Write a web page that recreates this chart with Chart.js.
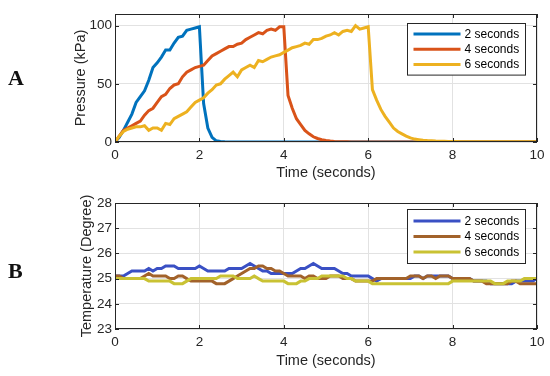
<!DOCTYPE html>
<html>
<head>
<meta charset="utf-8">
<script src="https://cdn.jsdelivr.net/npm/chart.js@4.4.0/dist/chart.umd.min.js"></script>
<style>
  body { margin: 0; background: #fff; }
  #wrap { position: relative; width: 550px; height: 376px; overflow: hidden; }
  canvas { position: absolute; left: 0; }
  #pressureChart { top: 0; }
  #tempChart { top: 182px; }
  .panel { position: absolute; left: 8px; font: bold 22px "Liberation Serif", serif; line-height: 1; color: #111; }
</style>
</head>
<body>
<div id="wrap">
  <canvas id="pressureChart" width="550" height="190"></canvas>
  <canvas id="tempChart" width="550" height="194"></canvas>
  <div class="panel" style="top:67px">A</div>
  <div class="panel" style="top:260px">B</div>
</div>
<script>
// time axis (seconds), 0.1 s step
var timeSec = [
  0, 0.1, 0.2, 0.3, 0.4, 0.5, 0.6, 0.7, 0.8, 0.9,
  1, 1.1, 1.2, 1.3, 1.4, 1.5, 1.6, 1.7, 1.8, 1.9,
  2, 2.1, 2.2, 2.3, 2.4, 2.5, 2.6, 2.7, 2.8, 2.9,
  3, 3.1, 3.2, 3.3, 3.4, 3.5, 3.6, 3.7, 3.8, 3.9,
  4, 4.1, 4.2, 4.3, 4.4, 4.5, 4.6, 4.7, 4.8, 4.9,
  5, 5.1, 5.2, 5.3, 5.4, 5.5, 5.6, 5.7, 5.8, 5.9,
  6, 6.1, 6.2, 6.3, 6.4, 6.5, 6.6, 6.7, 6.8, 6.9,
  7, 7.1, 7.2, 7.3, 7.4, 7.5, 7.6, 7.7, 7.8, 7.9,
  8, 8.1, 8.2, 8.3, 8.4, 8.5, 8.6, 8.7, 8.8, 8.9,
  9, 9.1, 9.2, 9.3, 9.4, 9.5, 9.6, 9.7, 9.8, 9.9,
  10
];
var seriesLabels = ["2 seconds", "4 seconds", "6 seconds"];
var timeTicks = [0, 2, 4, 6, 8, 10];
var pressureTicks = [0, 50, 100];
var tempTicks = [23, 24, 25, 26, 27, 28];

// Pressure (kPa)
var pressure2s = [
  0, 4, 10, 17, 24, 34, 39, 44, 53, 64,
  68, 73, 79, 79, 85, 90, 91, 96, 97, 98,
  99, 33, 12, 4, 1, 0.5, 0.2, 0, 0, 0,
  0, 0, 0, 0, 0, 0, 0, 0, 0, 0,
  0, 0, 0, 0, 0, 0, 0, 0, 0, 0,
  0, 0, 0, 0, 0, 0, 0, 0, 0, 0,
  0, 0, 0, 0, 0, 0, 0, 0, 0, 0,
  0, 0, 0, 0, 0, 0, 0, 0, 0, 0,
  0, 0, 0, 0, 0, 0, 0, 0, 0, 0,
  0, 0, 0, 0, 0, 0, 0, 0, 0, 0,
  0
];
var pressure4s = [
  0, 5, 10, 12, 14, 16, 18, 23, 27, 29,
  34, 39, 41, 46, 49, 50, 56, 60, 62, 64,
  65, 66, 70, 74, 76, 78, 80, 82, 82, 84,
  85, 88, 90, 92, 94, 93, 96, 97, 96, 99,
  99, 40, 29, 20, 15, 10, 7, 4.5, 3, 2,
  1.3, 0.8, 0.5, 0.3, 0.2, 0.2, 0.1, 0.1, 0, 0,
  0, 0, 0, 0, 0, 0, 0, 0, 0, 0,
  0, 0, 0, 0, 0, 0, 0, 0, 0, 0,
  0, 0, 0, 0, 0, 0, 0, 0, 0, 0,
  0, 0, 0, 0, 0, 0, 0, 0, 0, 0,
  0
];
var pressure6s = [
  0, 5, 9, 11, 12, 13, 13, 14, 10, 12,
  12, 10, 16, 15, 20, 22, 24, 26, 30, 34,
  36, 38, 42, 45, 49, 50, 54, 57, 60, 56,
  62, 64, 66, 64, 70, 69, 71, 73, 74, 75,
  77, 79, 81, 82, 83, 85, 84, 88, 88, 89,
  91, 92, 94, 92, 95, 96, 95, 100, 97, 98,
  99, 45, 36, 28, 22, 17, 12, 9, 7, 5,
  3.5, 2.5, 2, 1.5, 1.2, 1, 0.8, 0.7, 0.6, 0.5,
  0.4, 0.4, 0.3, 0.3, 0.3, 0.3, 0.2, 0.2, 0.2, 0.2,
  0.2, 0.2, 0.2, 0.2, 0.2, 0.2, 0.2, 0.2, 0.2, 0.2,
  0.2
];

// Temperature (Degree)
var temp2s = [
  25.1, 25.1, 25.1, 25.2, 25.3, 25.3, 25.3, 25.3, 25.4, 25.3,
  25.4, 25.4, 25.5, 25.5, 25.5, 25.4, 25.4, 25.4, 25.4, 25.4,
  25.5, 25.4, 25.3, 25.3, 25.3, 25.3, 25.3, 25.4, 25.4, 25.4,
  25.4, 25.5, 25.6, 25.5, 25.4, 25.3, 25.3, 25.2, 25.2, 25.2,
  25.2, 25.2, 25.2, 25.3, 25.4, 25.4, 25.5, 25.6, 25.5, 25.4,
  25.4, 25.4, 25.4, 25.3, 25.2, 25.2, 25.1, 25.1, 25.1, 25.1,
  25.1, 25.0, 24.9, 25.0, 25.0, 25.0, 25.0, 25.0, 25.0, 25.0,
  25.0, 25.1, 25.1, 25.0, 25.1, 25.1, 25.1, 25.1, 25.1, 25.1,
  25.0, 25.0, 25.0, 25.0, 25.0, 24.9, 24.9, 24.9, 24.9, 24.8,
  24.8, 24.8, 24.8, 24.8, 24.8, 24.9, 24.9, 24.9, 24.9, 24.9,
  25.0
];
var temp4s = [
  25.1, 25.1, 25.0, 25.0, 25.0, 25.0, 25.0, 25.1, 25.2, 25.1,
  25.1, 25.1, 25.1, 25.0, 25.0, 25.1, 25.1, 25.0, 24.9, 24.9,
  24.9, 24.9, 24.9, 24.9, 24.8, 24.8, 24.8, 24.9, 25.0, 25.1,
  25.2, 25.3, 25.4, 25.4, 25.5, 25.5, 25.4, 25.4, 25.3, 25.3,
  25.2, 25.1, 25.1, 25.1, 25.1, 25.0, 25.1, 25.1, 25.0, 25.0,
  25.0, 25.1, 25.1, 25.1, 25.0, 25.0, 25.0, 24.9, 24.9, 24.9,
  24.9, 24.9, 25.0, 25.0, 25.0, 25.0, 25.0, 25.0, 25.0, 25.0,
  25.1, 25.1, 25.1, 25.0, 25.1, 25.1, 25.0, 25.1, 25.1, 25.1,
  25.0, 25.0, 25.0, 25.0, 25.0, 24.9, 24.9, 24.9, 24.8, 24.8,
  24.8, 24.8, 24.8, 24.8, 24.9, 24.9, 24.8, 24.8, 24.8, 24.8,
  24.8
];
var temp6s = [
  25.0, 25.0, 25.0, 25.0, 25.0, 25.0, 25.0, 25.0, 24.9, 24.9,
  24.9, 24.9, 24.9, 24.9, 24.8, 24.8, 24.8, 24.9, 25.0, 25.0,
  25.0, 25.0, 25.0, 25.0, 25.0, 25.1, 25.1, 25.1, 25.1, 25.0,
  25.0, 25.0, 25.0, 25.1, 25.0, 24.9, 24.9, 24.9, 24.9, 24.9,
  24.9, 24.8, 24.8, 24.8, 24.9, 24.9, 25.0, 25.0, 25.0, 25.1,
  25.1, 25.1, 25.1, 25.1, 25.1, 25.0, 25.0, 24.9, 24.9, 24.9,
  24.9, 24.8, 24.8, 24.8, 24.8, 24.8, 24.8, 24.8, 24.8, 24.8,
  24.8, 24.8, 24.8, 24.8, 24.8, 24.8, 24.8, 24.8, 24.8, 24.8,
  24.9, 24.9, 24.9, 24.9, 24.9, 24.9, 24.9, 24.9, 24.9, 24.9,
  24.8, 24.8, 24.8, 24.9, 24.9, 24.9, 24.9, 25.0, 25.0, 25.0,
  25.0
];

var pressureColors = ["#0072BD", "#D95319", "#EDB120"];
var tempColors = ["#3A50C4", "#A2622A", "#C9C233"];
var axisColor = "#262626";
var gridColor = "#e2e2e2";
var fontFamily = "'Liberation Sans', Arial, sans-serif";

// MATLAB-style box with inward ticks
var boxFrame = {
    id: "boxFrame",
    afterDatasetsDraw: function (chart) {
        var ctx = chart.ctx, a = chart.chartArea;
        var xs = chart.scales.x, ys = chart.scales.y;
        var len = 4;
        ctx.save();
        ctx.strokeStyle = axisColor;
        ctx.lineWidth = 1;
        ctx.beginPath();
        xs.ticks.forEach(function (t) {
            var px = Math.round(xs.getPixelForValue(t.value)) + 0.5;
            ctx.moveTo(px, a.bottom); ctx.lineTo(px, a.bottom - len);
            ctx.moveTo(px, a.top); ctx.lineTo(px, a.top + len);
        });
        ys.ticks.forEach(function (t) {
            var py = Math.round(ys.getPixelForValue(t.value)) + 0.5;
            ctx.moveTo(a.left, py); ctx.lineTo(a.left + len, py);
            ctx.moveTo(a.right, py); ctx.lineTo(a.right - len, py);
        });
        ctx.stroke();
        ctx.strokeRect(Math.round(a.left) + 0.5, Math.round(a.top) + 0.5,
            Math.round(a.width) - 1, Math.round(a.height) - 1);
        ctx.restore();
    }
};

// legend in a bordered white box at the top right
var boxLegend = {
    id: "boxLegend",
    afterDraw: function (chart, args, opts) {
        var ctx = chart.ctx, a = chart.chartArea;
        var ds = chart.data.datasets;
        var w = opts.width, pad = opts.pad, rowH = opts.rowHeight;
        var h = pad * 2 + rowH * (ds.length - 1);
        var left = Math.round(a.right - opts.right - w) + 0.5;
        var top = Math.round(a.top + opts.top) + 0.5;
        ctx.save();
        ctx.fillStyle = "#fff";
        ctx.fillRect(left, top, w, h);
        ctx.strokeStyle = axisColor;
        ctx.lineWidth = 1;
        ctx.strokeRect(left, top, w, h);
        ctx.font = opts.fontSize + "px " + fontFamily;
        ctx.textBaseline = "middle";
        ctx.textAlign = "left";
        ds.forEach(function (d, i) {
            var cy = top + pad + i * rowH;
            ctx.strokeStyle = d.borderColor;
            ctx.lineWidth = 3;
            ctx.beginPath();
            ctx.moveTo(left + 6, cy);
            ctx.lineTo(left + 53, cy);
            ctx.stroke();
            ctx.fillStyle = "#000";
            ctx.fillText(d.label, left + 57, cy + 0.5);
        });
        ctx.restore();
    }
};

function makeSets(values, colors) {
    return values.map(function (v, i) {
        return {
            label: seriesLabels[i],
            data: v,
            borderColor: colors[i],
            backgroundColor: colors[i],
            borderWidth: 3,
            pointRadius: 0,
            tension: 0,
            fill: false,
            order: values.length - i
        };
    });
}

function makeOptions(cfg) {
    return {
        responsive: false,
        animation: false,
        layout: { padding: cfg.padding },
        plugins: {
            legend: { display: false },
            tooltip: { enabled: false },
            boxLegend: cfg.legend
        },
        scales: {
            x: {
                type: "linear",
                min: 0,
                max: 10,
                afterBuildTicks: function (s) { s.ticks = timeTicks.map(function (v) { return { value: v }; }); },
                afterFit: function (s) { s.height = cfg.xHeight; },
                grid: { color: gridColor, drawTicks: false },
                border: { display: false },
                ticks: { color: axisColor, padding: 5, font: { family: fontFamily, size: 13.5 } },
                title: {
                    display: true, text: "Time (seconds)", color: axisColor,
                    padding: { top: 0, bottom: 0 },
                    font: { family: fontFamily, size: 14.5 }
                }
            },
            y: {
                min: cfg.yMin,
                max: cfg.yMax,
                afterBuildTicks: function (s) { s.ticks = cfg.yTicks.map(function (v) { return { value: v }; }); },
                afterFit: function (s) { s.width = cfg.yWidth; },
                grid: { color: gridColor, drawTicks: false },
                border: { display: false },
                ticks: { color: axisColor, padding: 3, font: { family: fontFamily, size: 13.5 } },
                title: {
                    display: true, text: cfg.yTitle, color: axisColor,
                    padding: { top: 0, bottom: 0 },
                    font: { family: fontFamily, size: 14.5 }
                }
            }
        }
    };
}

document.addEventListener("DOMContentLoaded", function () {
    var pCtx = document.getElementById("pressureChart").getContext("2d");
    var tCtx = document.getElementById("tempChart").getContext("2d");

    new Chart(pCtx, {
        type: "line",
        data: {
            labels: timeSec,
            datasets: makeSets([pressure2s, pressure4s, pressure6s], pressureColors)
        },
        options: makeOptions({
            padding: { left: 72, right: 13, top: 14, bottom: 8.6 },
            xHeight: 39.4,
            yWidth: 43,
            yMin: 0, yMax: 110,
            yTicks: pressureTicks,
            yTitle: "Pressure (kPa)",
            legend: { width: 118, pad: 10.5, rowHeight: 15.3, top: 9, right: 12, fontSize: 12 }
        }),
        plugins: [boxFrame, boxLegend]
    });

    new Chart(tCtx, {
        type: "line",
        data: {
            labels: timeSec,
            datasets: makeSets([temp2s, temp4s, temp6s], tempColors)
        },
        options: makeOptions({
            padding: { left: 78.3, right: 13, top: 21, bottom: 5.9 },
            xHeight: 41.1,
            yWidth: 36.7,
            yMin: 23, yMax: 28,
            yTicks: tempTicks,
            yTitle: "Temperature (Degree)",
            legend: { width: 118, pad: 11.5, rowHeight: 15.5, top: 6, right: 12, fontSize: 12 }
        }),
        plugins: [boxFrame, boxLegend]
    });
});
</script>
</body>
</html>
